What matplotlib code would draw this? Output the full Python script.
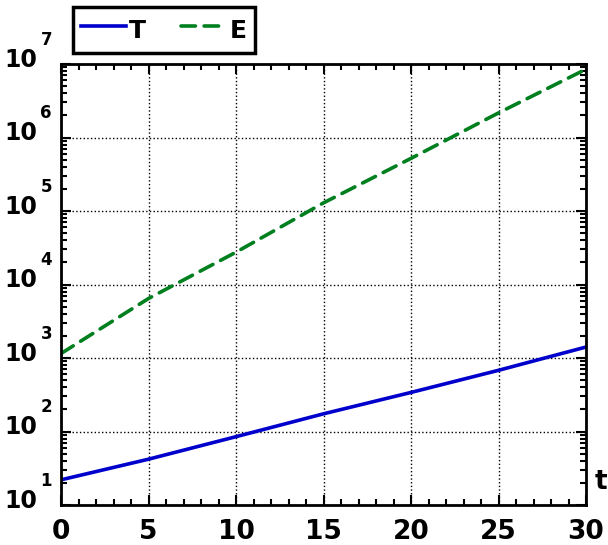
import numpy as np
import matplotlib
matplotlib.use('Agg')
import matplotlib.pyplot as plt
from matplotlib.ticker import LogLocator, MultipleLocator, NullFormatter

# valores
t = [0, 5, 10, 15, 20, 25, 30]
T = [22, 42, 85, 174, 340, 680, 1410]
E = [1150, 6450, 27500, 129000, 520000, 2160000, 8500000]
y_exps = [1, 2, 3, 4, 5, 6, 7]

plt.rcParams['font.family'] = ['DejaVu Sans']
plt.rcParams['font.weight'] = 'bold'

fig = plt.figure(figsize=(6.08, 5.45), dpi=100)
ax = fig.add_axes([61 / 608, 1 - 505 / 545, 525 / 608, 441 / 545])

ax.semilogy(t, T, color='#0000cc', lw=2.6, label='T')
ax.semilogy(t, E, color='#007f1f', lw=2.6, ls=(0, (4, 2.4)), label='E',
            dash_capstyle='round')

ax.set_xlim(0, 30)
ax.set_ylim(10, 1e7)
ax.xaxis.set_major_locator(MultipleLocator(5))
ax.xaxis.set_minor_locator(MultipleLocator(1))
ax.yaxis.set_major_locator(LogLocator(base=10, numticks=10))
ax.yaxis.set_minor_locator(LogLocator(base=10, subs=range(2, 10), numticks=20))
ax.yaxis.set_major_formatter(NullFormatter())
ax.yaxis.set_minor_formatter(NullFormatter())

ax.tick_params(which='both', direction='in', top=True, right=True, width=1.5)
ax.tick_params(which='major', length=7, labelsize=19)
ax.tick_params(which='minor', length=4)
ax.tick_params(axis='x', which='major', pad=10)
for s in ax.spines.values():
    s.set_linewidth(2)

# etiquetas del eje y: "10" con exponente aparte
for k in y_exps:
    ax.annotate('10', xy=(0, 10.0 ** k), xycoords=('axes fraction', 'data'),
                xytext=(-17.3, 2.9), textcoords='offset points', ha='right', va='center',
                fontsize=17, fontweight='bold', annotation_clip=False)
    ax.annotate(str(k), xy=(0, 10.0 ** k), xycoords=('axes fraction', 'data'),
                xytext=(-14.8, 17.3), textcoords='offset points', ha='left', va='center',
                fontsize=12, fontweight='bold', annotation_clip=False)

ax.grid(True, which='major', color='black', ls=':', lw=1)

leg = ax.legend(loc='upper left', bbox_to_anchor=(0.023, 1.129), ncol=2, fontsize=18,
                fancybox=False, edgecolor='black', framealpha=1, handlelength=1.8,
                handleheight=1.5, handletextpad=0.15, columnspacing=1.4,
                borderaxespad=0, borderpad=0.3)
leg.get_frame().set_linewidth(2.5)

ax.text(1.016, 0.023, 't', transform=ax.transAxes, fontsize=19, fontweight='bold',
        va='bottom', ha='left')

fig.savefig('out.png', dpi=100)
